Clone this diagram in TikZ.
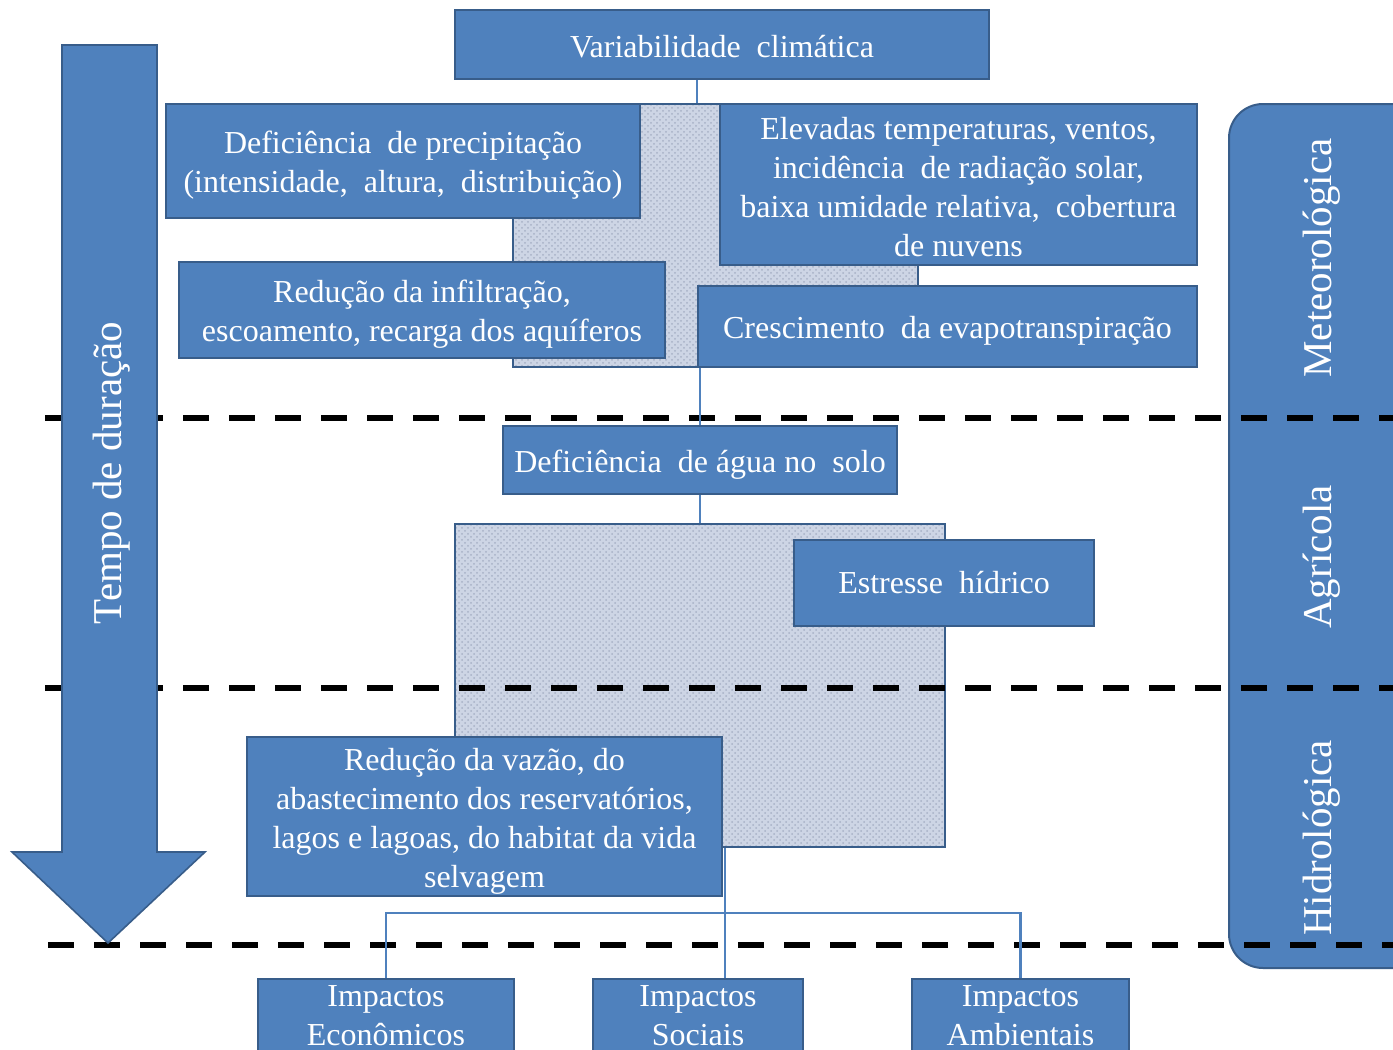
\documentclass[tikz,border=0pt]{standalone}
\usepackage{fontspec}
\setmainfont{Liberation Serif}
\usetikzlibrary{patterns}
\definecolor{boxfill}{HTML}{4F81BD}
\definecolor{boxline}{HTML}{385D8A}
\definecolor{grayfill}{HTML}{CDD5E5}
\definecolor{graydot}{HTML}{A7B1C6}
\newcommand\bodyfont{\fontsize{16}{19.5}\selectfont}
\newcommand\bigfont{\fontsize{20.5}{24}\selectfont}
\newcommand\lw[2][-2pt]{\raisebox{#1}[\height][\depth]{\begin{tabular}{@{}c@{}}#2\end{tabular}}}
\tikzset{
  bluebox/.style={draw=boxline, fill=boxfill, line width=1.25pt, text=white,
    inner sep=0pt, align=center, font=\bodyfont},
  texbox/.style={draw=boxline, preaction={fill=grayfill}, line width=0.8pt,
    pattern=crosshatch dots, pattern color=graydot, inner sep=0pt},
  conn/.style={draw=boxfill, line width=1.3pt},
  divider/.style={draw=black, line width=2.8pt, dash pattern=on 13pt off 10pt},
  sidelabel/.style={text=white, font=\bigfont, rotate=90, inner sep=0pt},
}
\begin{document}
\begin{tikzpicture}[x=0.5pt,y=-0.5pt]
\clip (0,0) rectangle (1393,1050);
\fill[white] (0,0) rectangle (1393,1050);

% right rounded band
\draw[fill=boxfill, draw=boxline, line width=1pt, rounded corners=17pt]
  (1229,104) rectangle (1440,968);

% textured backgrounds
\node[texbox, minimum width=202.5pt, minimum height=131.5pt] (g1) at (715.5,235.5) {};
\node[texbox, minimum width=245pt, minimum height=161.5pt] (g2) at (700,685.5) {};

% dashed dividers
\coordinate (d1a) at (45,418);  \coordinate (d1b) at (1393,418);
\coordinate (d2a) at (45,688);  \coordinate (d2b) at (1393,688);
\coordinate (d3a) at (48,945);  \coordinate (d3b) at (1393,945);
\draw[divider] (d1a) -- (d1b);
\draw[divider] (d2a) -- (d2b);
\draw[divider] (d3a) -- (d3b);

% big arrow
\draw[fill=boxfill, draw=boxline, line width=0.8pt]
  (62,45) -- (157,45) -- (157,852) -- (205,852) -- (108,943) -- (12,852) -- (62,852) -- cycle;
\node[sidelabel] (tempo) at (112,473) {Tempo de duração};

% side labels
\node[sidelabel] (met) at (1322,258) {Meteorológica};
\node[sidelabel] (agr) at (1322,557) {Agrícola};
\node[sidelabel] (hid) at (1322,838) {Hidrológica};

% boxes
\node[bluebox, minimum width=267pt, minimum height=34.5pt] (var) at (722,44.5)
  {\lw[-2.5pt]{Variabilidade\ \ climática}};
\node[bluebox, minimum width=237pt, minimum height=57pt] (dp) at (403,161)
  {\lw{Deficiência\ \ de precipitação\\(intensidade,\ \ altura,\ \ distribuição)}};
\node[bluebox, minimum width=238.5pt, minimum height=80.5pt] (elev) at (958.5,184.5)
  {\lw[-3pt]{Elevadas temperaturas, ventos,\\incidência\ \ de radiação solar,\\baixa umidade relativa,\ \ cobertura\\de nuvens}};
\node[bluebox, minimum width=243pt, minimum height=48pt] (red1) at (422,310)
  {\lw{Redução da infiltração,\\escoamento, recarga dos aquíferos}};
\node[bluebox, minimum width=249.5pt, minimum height=40.5pt] (cresc) at (947.5,326.5)
  {\lw{Crescimento\ \ da evapotranspiração}};
\node[bluebox, minimum width=197pt, minimum height=34pt] (agua) at (700,460)
  {\lw[-2.5pt]{Deficiência\ \ de água no\ \ solo}};
\node[bluebox, minimum width=150pt, minimum height=43pt] (estr) at (944,583)
  {Estresse\ \ hídrico};
\node[bluebox, minimum width=237.5pt, minimum height=79.5pt] (red2) at (484.5,816.5)
  {\lw[-2.5pt]{Redução da vazão, do\\abastecimento dos reservatórios,\\lagos e lagoas, do habitat da vida\\selvagem}};
\node[bluebox, minimum width=128pt, minimum height=36.5pt] (eco) at (386,1015.5)
  {Impactos\\Econômicos};
\node[bluebox, minimum width=105pt, minimum height=36.5pt] (soc) at (698,1015.5)
  {Impactos\\Sociais};
\node[bluebox, minimum width=108.5pt, minimum height=36.5pt] (amb) at (1020.5,1015.5)
  {Impactos\\Ambientais};

% connectors
\coordinate (c1) at (697,0);
\coordinate (c2) at (700,0);
\coordinate (c3) at (725,0);
\coordinate (c4) at (0,913);
\draw[conn] (var.south -| c1) -- (g1.north -| c1);
\draw[conn] (cresc.south -| c2) -- (agua.north -| c2);
\draw[conn] (agua.south -| c2) -- (g2.north -| c2);
\draw[conn] (g2.south -| c3) -- (soc.north -| c3);
\draw[conn] (eco.north) -- (eco.north |- c4) -- (amb.north |- c4) -- (amb.north);
\end{tikzpicture}
\end{document}
